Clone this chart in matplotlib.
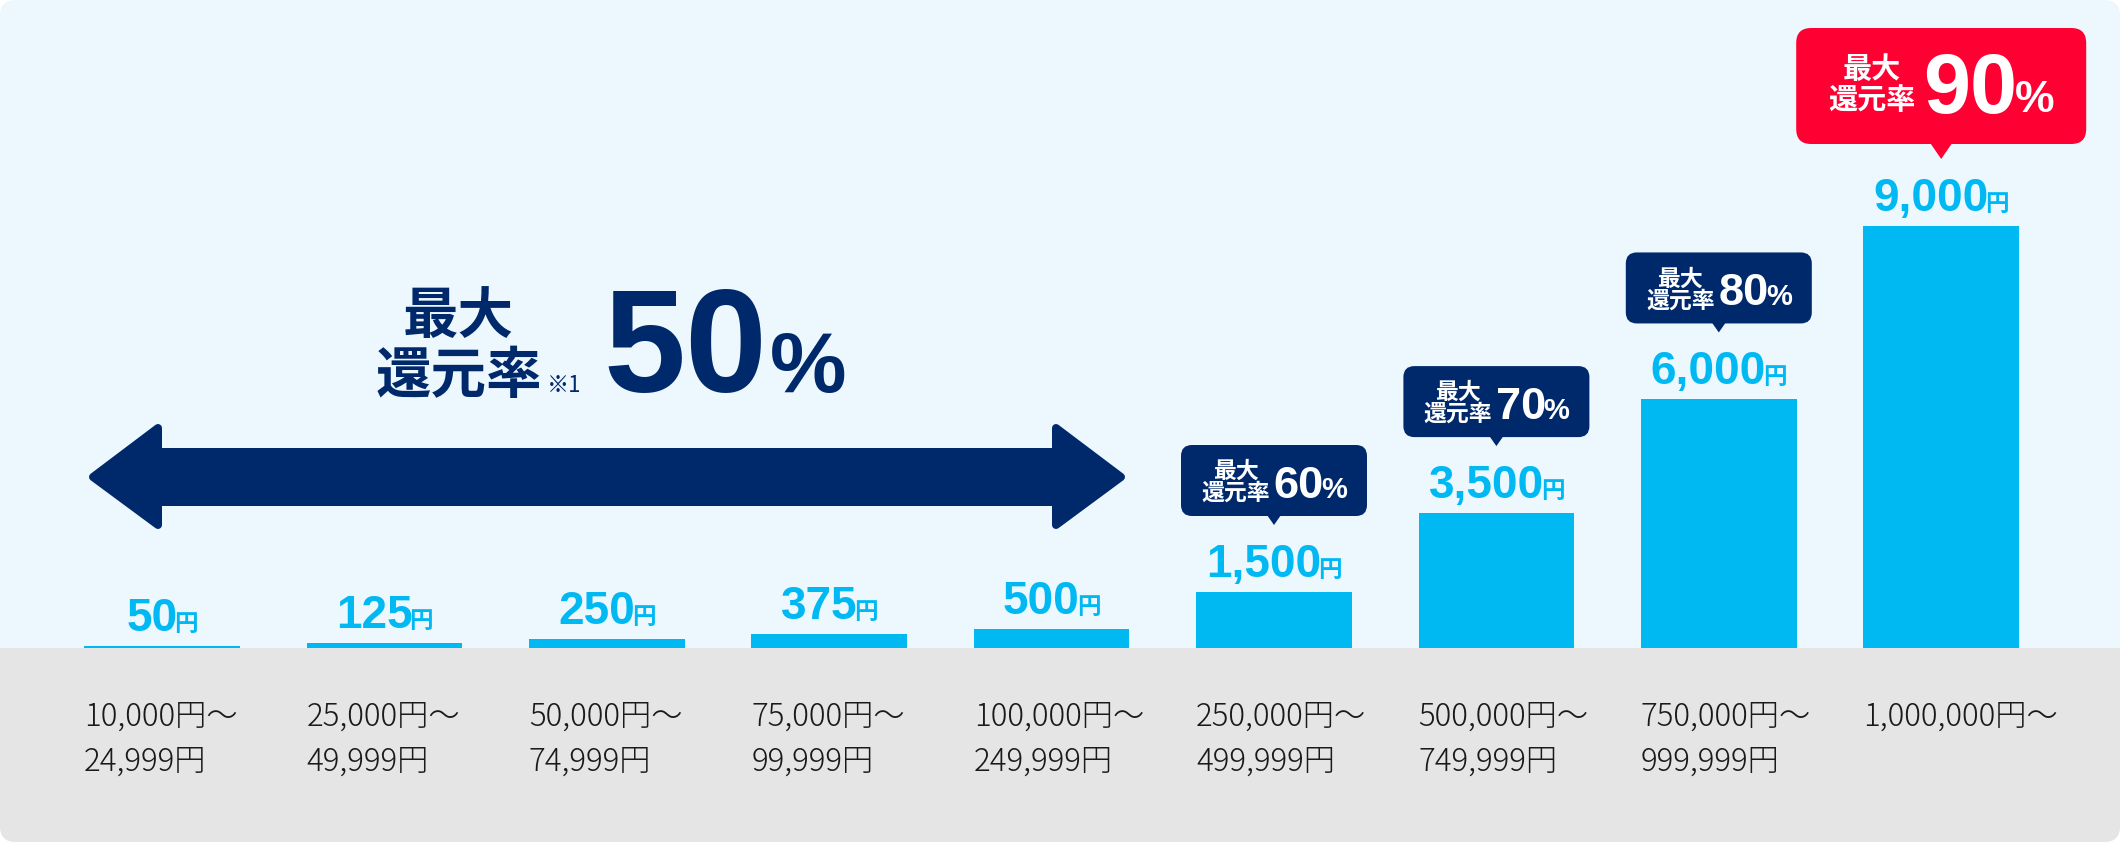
import numpy as np
import matplotlib
matplotlib.use("Agg")
import matplotlib.pyplot as plt
from matplotlib.patches import FancyBboxPatch, Polygon, Rectangle

# ---------------- data ----------------
range_from = ["10,000円～", "25,000円～", "50,000円～", "75,000円～", "100,000円～",
              "250,000円～", "500,000円～", "750,000円～", "1,000,000円～"]
range_to = ["24,999円", "49,999円", "74,999円", "99,999円", "249,999円",
            "499,999円", "749,999円", "999,999円", ""]
reward_yen = [50, 125, 250, 375, 500, 1500, 3500, 6000, 9000]
reward_text = ["50", "125", "250", "375", "500", "1,500", "3,500", "6,000", "9,000"]
max_rate = [None, None, None, None, None, "60", "70", "80", "90"]
base_max_rate = "50"
yen_unit = "円"
rate_head = ["最大", "還元率"]
note_mark = "※1"

# ---------------- style ----------------
W, H, DPI = 2120, 842, 100
LIGHT = "#EDF7FE"
GRAY = "#E5E5E5"
CYAN = "#00B9F3"
NAVY = "#00296C"
RED = "#FF0033"
INK = "#1A1A1A"
NUM = "Liberation Sans"
JP = "Noto Sans CJK JP"
plt.rcParams["font.family"] = [JP, "DejaVu Sans"]

BASE_Y = 648          # pixel row (from top) of bar baseline
STEP = 222.4          # pixel distance between bar centres
X0 = 162              # pixel centre of first bar

# y scale: bars are drawn on a mildly cubic scale
R = 3.276e-9


def fwd(v):
    v = np.asarray(v, dtype=float)
    return v + R * v ** 3


def inv(y):
    y = np.asarray(y, dtype=float)
    p = 1.0 / R
    q = -y / R
    s = np.sqrt(q * q / 4 + p ** 3 / 27)
    return np.cbrt(-q / 2 + s) + np.cbrt(-q / 2 - s)


fig = plt.figure(figsize=(W / DPI, H / DPI), dpi=DPI)
fig.patch.set_facecolor("white")

# background panel
bg = fig.add_axes([0, 0, 1, 1], zorder=0)
bg.set_xlim(0, W)
bg.set_ylim(H, 0)
bg.axis("off")
panel = FancyBboxPatch((0, 0), W, H, boxstyle="round,pad=0,rounding_size=16",
                       fc=LIGHT, ec="none")
bg.add_patch(panel)
gray = Rectangle((0, BASE_Y), W, H - BASE_Y, fc=GRAY, ec="none")
bg.add_patch(gray)
gray.set_clip_path(panel)

# bar axes
left_px = X0 - 0.5 * STEP
ax = fig.add_axes([left_px / W, (H - BASE_Y) / H, 9 * STEP / W, BASE_Y / H], zorder=1)
ax.patch.set_alpha(0)
ax.set_xlim(-0.5, 8.5)
ax.set_yscale("function", functions=(fwd, inv))
ymax = float(inv(fwd(9000) * BASE_Y / 422.0))
ax.set_ylim(0, ymax)
ax.axis("off")
xs = np.arange(len(reward_yen))
ax.bar(xs, reward_yen, width=0.70, color=CYAN, linewidth=0)

# foreground pixel axes
fg = fig.add_axes([0, 0, 1, 1], zorder=2)
fg.set_xlim(0, W)
fg.set_ylim(H, 0)
fg.axis("off")
fg.patch.set_alpha(0)

fig.canvas.draw()
rend = fig.canvas.get_renderer()


def width(t):
    return t.get_window_extent(rend).width


# value labels on bars
GAP_YEN = -3
for i, (v, lab) in enumerate(zip(reward_yen, reward_text)):
    a1 = ax.annotate(lab, xy=(i, v), xytext=(0, 15), textcoords="offset pixels",
                     ha="left", va="baseline", fontsize=33, fontweight="bold",
                     family=NUM, color=CYAN, annotation_clip=False)
    a2 = ax.annotate(yen_unit, xy=(i, v), xytext=(0, 15), textcoords="offset pixels",
                     ha="left", va="baseline", fontsize=17, fontweight="bold",
                     family=[JP], color=CYAN, annotation_clip=False)
    w1, w2 = width(a1), width(a2)
    tot = w1 + GAP_YEN + w2
    a1.xyann = (-tot / 2, 15)
    a2.xyann = (-tot / 2 + w1 + GAP_YEN, 15)

# range labels
for i, (a, b) in enumerate(zip(range_from, range_to)):
    ax.annotate(a, xy=(i - 0.35, 0), xytext=(0, -(726 - BASE_Y)),
                textcoords="offset pixels", ha="left", va="baseline",
                fontsize=22.5, fontweight="light", color=INK, family=[JP],
                annotation_clip=False)
    if b:
        ax.annotate(b, xy=(i - 0.35, 0), xytext=(0, -(771 - BASE_Y)),
                    textcoords="offset pixels", ha="left", va="baseline",
                    fontsize=22.5, fontweight="light", color=INK, family=[JP],
                    annotation_clip=False)


def rate_group(cx, B, rate, big, color):
    if big:
        fs_h, fs_n, fs_p = 21, 61, 32
        g1, g2 = 8, -3
        dn, dp, d2, d1 = 31, 32, 35, 66
    else:
        fs_h, fs_n, fs_p = 16.5, 32.5, 21
        g1, g2 = 4, -3
        dn, dp, d2, d1 = 18, 18, 16, 38
    t1 = fg.text(0, B - d1, rate_head[0], fontsize=fs_h, fontweight="bold",
                 color=color, ha="center", va="baseline", family=[JP])
    t2 = fg.text(0, B - d2, rate_head[1], fontsize=fs_h, fontweight="bold",
                 color=color, ha="center", va="baseline", family=[JP])
    tn = fg.text(0, B - dn, rate, fontsize=fs_n, fontweight="bold", color=color,
                 ha="left", va="baseline", family=NUM)
    tp = fg.text(0, B - dp, "%", fontsize=fs_p, fontweight="bold", color=color,
                 ha="left", va="baseline", family=NUM)
    wb = max(width(t1), width(t2))
    wn, wp = width(tn), width(tp)
    total = wb + g1 + wn + g2 + wp
    x0 = cx - total / 2
    t1.set_x(x0 + wb / 2)
    t2.set_x(x0 + wb / 2)
    tn.set_x(x0 + wb + g1)
    tp.set_x(x0 + wb + g1 + wn + g2)


# speech bubbles
for i, (v, rate) in enumerate(zip(reward_yen, max_rate)):
    if rate is None:
        continue
    xd, yd = ax.transData.transform((i, v))
    cx = xd
    top = H - yd
    tip = top - 67
    big = (i == len(reward_yen) - 1)
    if big:
        bw, bh, th, hw, rr, col = 290, 116, 15, 11, 15, RED
    else:
        bw, bh, th, hw, rr, col = 186, 71, 9, 7, 11, NAVY
    B = tip - th
    fg.add_patch(FancyBboxPatch((cx - bw / 2, B - bh), bw, bh,
                                boxstyle=f"round,pad=0,rounding_size={rr}",
                                fc=col, ec="none"))
    fg.add_patch(Polygon([(cx - hw, B - 1), (cx + hw, B - 1), (cx, tip)],
                         closed=True, fc=col, ec="none"))
    rate_group(cx, B, rate, big, "white")

# main headline  "最大 還元率※1 50%"
bx = 458.5
fg.text(bx, 333, rate_head[0], fontsize=40, fontweight="bold", color=NAVY,
        ha="center", va="baseline", family=[JP])
fg.text(bx, 393, rate_head[1], fontsize=40, fontweight="bold", color=NAVY,
        ha="center", va="baseline", family=[JP])
fg.text(547, 392, note_mark, fontsize=16, color=NAVY, ha="left",
        va="baseline", family=[JP])
m50 = fg.text(603, 392, base_max_rate, fontsize=106, fontweight="bold", color=NAVY,
              ha="left", va="baseline", family=NUM)
fg.text(603 + width(m50) + 3, 392, "%", fontsize=62, fontweight="bold", color=NAVY,
        ha="left", va="baseline", family=NUM)

# double arrow
ins = 4
arrow = [
    (89 + ins, 477), (162 - ins, 424 + ins), (162 - ins, 448 + ins),
    (1052 + ins, 448 + ins), (1052 + ins, 424 + ins), (1125 - ins, 477),
    (1052 + ins, 529 - ins), (1052 + ins, 506 - ins), (162 - ins, 506 - ins),
    (162 - ins, 529 - ins),
]
fg.add_patch(Polygon(arrow, closed=True, fc=NAVY, ec=NAVY,
                     lw=2 * ins * 72 / DPI, joinstyle="round"))

fig.savefig("out.png", dpi=DPI)
